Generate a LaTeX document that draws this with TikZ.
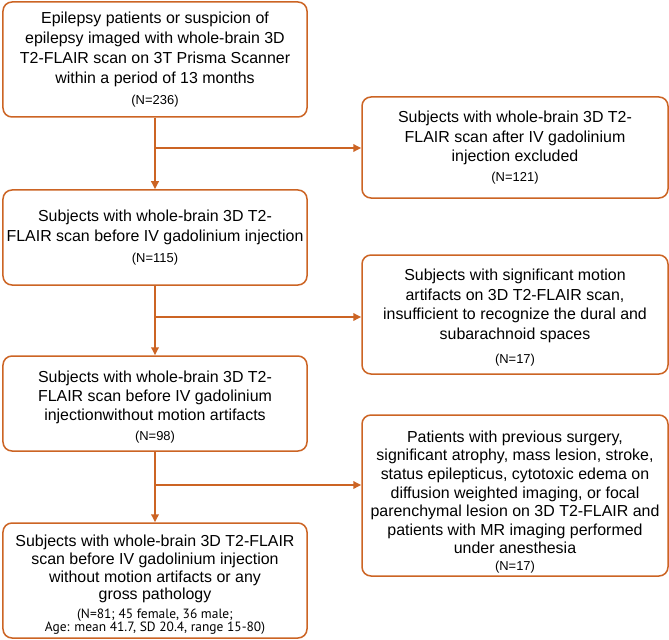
\documentclass[tikz,border=0pt]{standalone}
\usepackage{fontspec}
\setmainfont{Liberation Sans}
\newfontfamily\ptsans{PT Sans}
\usetikzlibrary{arrows.meta}
\definecolor{flow}{RGB}{204,100,36}
\newcommand\mfA{\fontsize{16}{20}\selectfont}
\newcommand\mfB{\fontsize{16}{19.5}\selectfont}
\newcommand\mfC{\fontsize{16}{18.7}\selectfont}
\newcommand\mfD{\fontsize{16}{18}\selectfont}
\newcommand\nf{\fontsize{13}{16}\selectfont}
\newcommand\df{\ptsans\fontsize{13.5}{16}\selectfont}
\begin{document}
\begin{tikzpicture}[x=1bp,y=-1bp,
  box/.style={draw=flow, line width=1.5bp, rounded corners=9bp, align=center,
    inner sep=0pt, fill=white},
  lbox/.style={box, minimum width=304bp},
  rbox/.style={box, minimum width=306bp},
  arr/.style={draw=flow, line width=1.8bp, -{Triangle[length=8bp,width=7.5bp]}},
  ln/.style={draw=flow, line width=1.8bp}]
\useasboundingbox (0,0) rectangle (669,640);

\node[lbox, minimum height=115bp, font=\mfA] (A) at (155,59.5)
 {Epilepsy patients or suspicion of\\ epilepsy imaged with whole-brain 3D\\ T2-FLAIR scan on 3T Prisma Scanner\\ within a period of 13 months\\[1pt] {\nf (N=236)}};

\node[rbox, minimum height=101bp, font=\mfB] (R1) at (515,147.5)
 {Subjects with whole-brain 3D T2-\\ FLAIR scan after IV gadolinium\\ injection excluded\\ {\nf (N=121)}};

\node[lbox, minimum height=95bp, font=\mfA] (B) at (155,237.5)
 {Subjects with whole-brain 3D T2-\\ FLAIR scan before IV gadolinium injection\\[1pt] {\nf (N=115)}};

\node[rbox, minimum height=119bp, font=\mfB] (R2) at (515,314.5)
 {\rule{0pt}{18bp}Subjects with significant motion\\ artifacts on 3D T2-FLAIR scan,\\ insufficient to recognize the dural and\\ subarachnoid spaces\\[5pt] {\nf (N=17)}};

\node[lbox, minimum height=95bp, font=\mfB] (C) at (155,403.5)
 {\rule{0pt}{18bp}Subjects with whole-brain 3D T2-\\ FLAIR scan before IV gadolinium\\ injectionwithout motion artifacts\\ {\nf (N=98)}};

\node[rbox, minimum height=161bp, font=\mfC] (R3) at (515,495.5)
 {\rule{0pt}{24bp}Patients with previous surgery,\\ significant atrophy, mass lesion, stroke,\\ status epilepticus, cytotoxic edema on\\ diffusion weighted imaging, or focal\\ parenchymal lesion on 3D T2-FLAIR and\\ patients with MR imaging performed\\ under anesthesia\\[-2.5pt] {\nf (N=17)}};

\node[lbox, minimum height=115bp, font=\mfD] (D) at (155,580.5)
 {\rule{0pt}{20bp}Subjects with whole-brain 3D T2-FLAIR\\ scan before IV gadolinium injection\\ without motion artifacts or any\\ gross pathology\\[1pt] {\df (N=81; 45 female, 36 male;}\\[-5pt] {\df Age: mean 41.7, SD 20.4, range 15-80)}};

\coordinate (j1) at (155,148);
\coordinate (j2) at (155,317);
\coordinate (j3) at (155,485);

\draw[arr] (A) -- (B);
\draw[arr] (B) -- (C);
\draw[arr] (C) -- (D);
\draw[arr] (j1) -- (j1 -| R1.west);
\draw[arr] (j2) -- (j2 -| R2.west);
\draw[arr] (j3) -- (j3 -| R3.west);
\end{tikzpicture}
\end{document}
